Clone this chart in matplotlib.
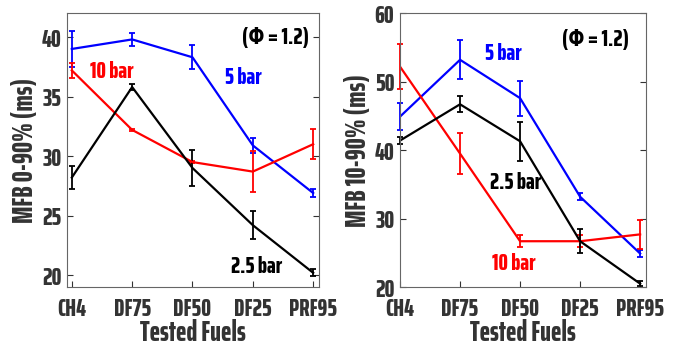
import matplotlib
matplotlib.use('Agg')
import matplotlib.pyplot as plt

plt.rcParams['font.family'] = ['Saira ExtraCondensed', 'Roboto Condensed', 'DejaVu Sans']
plt.rcParams['font.weight'] = 800
plt.rcParams['axes.labelweight'] = 800

fuels = ['CH4', 'DF75', 'DF50', 'DF25', 'PRF95']
xpos = [1, 2, 3, 4, 5]

# MFB 0-90% (ms)
a_5bar = [39.0, 39.8, 38.3, 30.9, 26.9]
a_5bar_err = [1.5, 0.55, 1.0, 0.65, 0.3]
a_10bar = [37.2, 32.2, 29.5, 28.7, 31.0]
a_10bar_err = [0.6, 0.1, 0.1, 1.7, 1.25]
a_25bar = [28.2, 35.8, 29.0, 24.2, 20.2]
a_25bar_err = [1.0, 0.25, 1.55, 1.2, 0.3]

# MFB 10-90% (ms)
b_5bar = [44.9, 53.2, 47.6, 33.2, 24.9]
b_5bar_err = [1.95, 2.85, 2.55, 0.55, 0.5]
b_10bar = [52.2, 39.5, 26.7, 26.7, 27.7]
b_10bar_err = [3.3, 2.95, 0.9, 0.9, 2.1]
b_25bar = [41.4, 46.7, 41.3, 26.7, 20.5]
b_25bar_err = [0.55, 1.15, 2.85, 1.75, 0.35]

tick_col = '#333333'
fs_tick = 18
fs_label = 20
fs_note = 17


def draw_panel(ax, series, ylim, yticks, ylabel):
    for y, e, c in series:
        lines = ax.errorbar(xpos, y, yerr=e, color=c, lw=1.6, elinewidth=1.3, capsize=2.2, capthick=1.3)
        for art in lines.lines[1] + lines.lines[2]:
            art.set_clip_on(False)  # error bars on the axis edge stay whole
    ax.set_xticks(xpos)
    ax.set_xticklabels(fuels)
    ax.set_yticks(yticks)
    ax.set_ylim(ylim)
    ax.tick_params(direction='in', length=4, labelsize=fs_tick, colors=tick_col, top=False, right=True,
                   labelcolor=tick_col, width=0.8)
    ax.tick_params(axis='x', pad=7)
    ax.tick_params(axis='y', pad=4)
    for s in ax.spines.values():
        s.set_color('#666666')
        s.set_linewidth(0.8)
    ax.set_xlabel('Tested Fuels', fontsize=fs_label, color=tick_col, labelpad=-1)
    ax.set_ylabel(ylabel, fontsize=fs_label, color=tick_col, labelpad=2)


fig = plt.figure(figsize=(6.78, 3.48), dpi=100)
ax1 = fig.add_axes([0.0988, 0.175, 0.372, 0.787])
ax2 = fig.add_axes([0.590, 0.175, 0.363, 0.787])

draw_panel(ax1, [(a_5bar, a_5bar_err, 'blue'), (a_10bar, a_10bar_err, 'red'), (a_25bar, a_25bar_err, 'black')],
           (19, 42), [20, 25, 30, 35, 40], 'MFB 0-90% (ms)')
ax1.set_xlim(0.92, 5.1)
ax1.text(4.37, 39.9, '(\u03a6 = 1.2)', fontsize=fs_note, ha='center', va='center', color='black')
ax1.text(1.66, 37.1, '10 bar', fontsize=fs_note, ha='center', va='center', color='red')
ax1.text(3.84, 36.6, '5 bar', fontsize=fs_note, ha='center', va='center', color='blue')
ax1.text(4.07, 20.7, '2.5 bar', fontsize=fs_note, ha='center', va='center', color='black')

draw_panel(ax2, [(b_5bar, b_5bar_err, 'blue'), (b_10bar, b_10bar_err, 'red'), (b_25bar, b_25bar_err, 'black')],
           (20, 60), [20, 30, 40, 50, 60], 'MFB 10-90% (ms)')
ax2.set_xlim(1, 5.1)
ax2.text(4.25, 56.1, '(\u03a6 = 1.2)', fontsize=fs_note, ha='center', va='center', color='black')
ax2.text(2.72, 54.1, '5 bar', fontsize=fs_note, ha='center', va='center', color='blue')
ax2.text(2.92, 35.2, '2.5 bar', fontsize=fs_note, ha='center', va='center', color='black')
ax2.text(2.9, 23.4, '10 bar', fontsize=fs_note, ha='center', va='center', color='red')

fig.savefig('out.png', dpi=100)
